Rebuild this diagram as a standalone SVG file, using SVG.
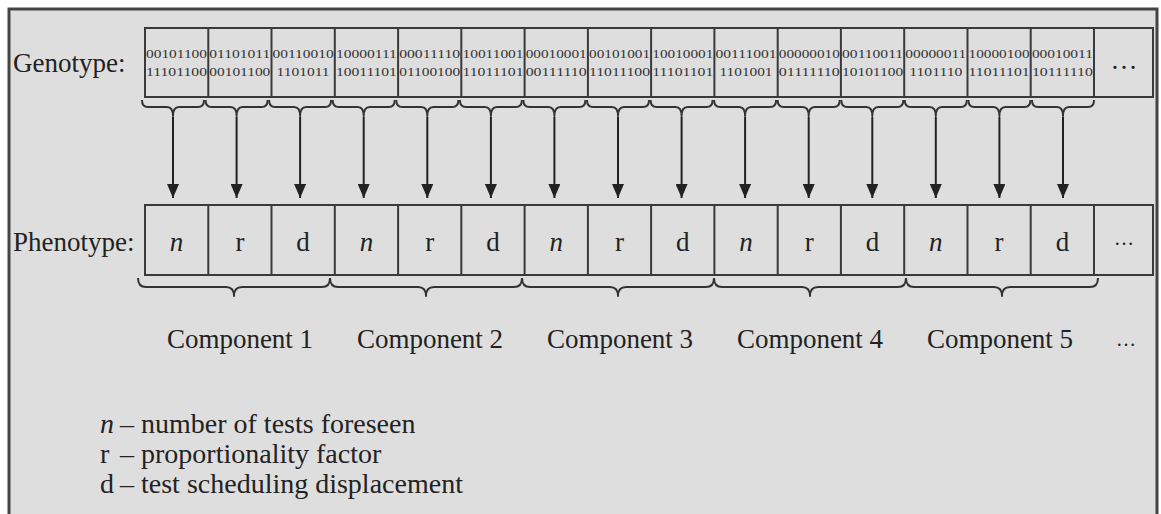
<svg xmlns="http://www.w3.org/2000/svg" width="1161" height="514" viewBox="0 0 1161 514">
  <style>
    .lbl { font-family: "Liberation Serif", "Times New Roman", serif; font-size: 27px; fill: #222; }
    .legend { font-size: 28px; }
    .bits { font-family: "Liberation Serif", "Times New Roman", serif; font-size: 12.5px; fill: #333; text-anchor: middle; }
    .sym { font-family: "Liberation Serif", "Times New Roman", serif; font-size: 27px; fill: #222; text-anchor: middle; }
    .it { font-style: italic; }
    .cell { fill: none; stroke: #3a3a3a; stroke-width: 2; }
    .brace { fill: none; stroke: #333; stroke-width: 2; stroke-linejoin: round; }
    .arrow { stroke: #222; stroke-width: 2; marker-end: url(#ah); }
  </style>
  <defs>
    <marker id="ah" markerUnits="userSpaceOnUse" markerWidth="14" markerHeight="12" viewBox="0 0 14 12" refX="14" refY="6" orient="auto">
      <path d="M0,0 L14,6 L0,12 z" fill="#222"/>
    </marker>
  </defs>

  <!-- page background and frame -->
  <rect x="0" y="0" width="1161" height="514" fill="#ffffff"/>
  <rect x="9" y="9" width="1148" height="520" fill="#dedede" stroke="#444" stroke-width="3"/>

  <!-- genotype strip -->
  <g id="genotype">
    <text class="lbl" x="13" y="72">Genotype:</text>
    <g class="bits">
      <text x="176.5" y="58" textLength="61" lengthAdjust="spacingAndGlyphs">00101100</text>
      <text x="176.5" y="76" textLength="61" lengthAdjust="spacingAndGlyphs">11101100</text>
      <text x="239.8" y="58" textLength="61" lengthAdjust="spacingAndGlyphs">01101011</text>
      <text x="239.8" y="76" textLength="61" lengthAdjust="spacingAndGlyphs">00101100</text>
      <text x="303.1" y="58" textLength="61" lengthAdjust="spacingAndGlyphs">00110010</text>
      <text x="303.1" y="76" textLength="53" lengthAdjust="spacingAndGlyphs">1101011</text>
      <text x="366.4" y="58" textLength="61" lengthAdjust="spacingAndGlyphs">10000111</text>
      <text x="366.4" y="76" textLength="61" lengthAdjust="spacingAndGlyphs">10011101</text>
      <text x="429.7" y="58" textLength="61" lengthAdjust="spacingAndGlyphs">00011110</text>
      <text x="429.7" y="76" textLength="61" lengthAdjust="spacingAndGlyphs">01100100</text>
      <text x="493" y="58" textLength="61" lengthAdjust="spacingAndGlyphs">10011001</text>
      <text x="493" y="76" textLength="61" lengthAdjust="spacingAndGlyphs">11011101</text>
      <text x="556.2" y="58" textLength="61" lengthAdjust="spacingAndGlyphs">00010001</text>
      <text x="556.2" y="76" textLength="61" lengthAdjust="spacingAndGlyphs">00111110</text>
      <text x="619.5" y="58" textLength="61" lengthAdjust="spacingAndGlyphs">00101001</text>
      <text x="619.5" y="76" textLength="61" lengthAdjust="spacingAndGlyphs">11011100</text>
      <text x="682.8" y="58" textLength="61" lengthAdjust="spacingAndGlyphs">10010001</text>
      <text x="682.8" y="76" textLength="61" lengthAdjust="spacingAndGlyphs">11101101</text>
      <text x="746" y="58" textLength="61" lengthAdjust="spacingAndGlyphs">00111001</text>
      <text x="746" y="76" textLength="53" lengthAdjust="spacingAndGlyphs">1101001</text>
      <text x="809.3" y="58" textLength="61" lengthAdjust="spacingAndGlyphs">00000010</text>
      <text x="809.3" y="76" textLength="61" lengthAdjust="spacingAndGlyphs">01111110</text>
      <text x="872.6" y="58" textLength="61" lengthAdjust="spacingAndGlyphs">00110011</text>
      <text x="872.6" y="76" textLength="61" lengthAdjust="spacingAndGlyphs">10101100</text>
      <text x="935.8" y="58" textLength="61" lengthAdjust="spacingAndGlyphs">00000011</text>
      <text x="935.8" y="76" textLength="53" lengthAdjust="spacingAndGlyphs">1101110</text>
      <text x="999.1" y="58" textLength="61" lengthAdjust="spacingAndGlyphs">10000100</text>
      <text x="999.1" y="76" textLength="61" lengthAdjust="spacingAndGlyphs">11011101</text>
      <text x="1062.4" y="58" textLength="61" lengthAdjust="spacingAndGlyphs">00010011</text>
      <text x="1062.4" y="76" textLength="61" lengthAdjust="spacingAndGlyphs">10111110</text>
    </g>
    <text class="sym" x="1124" y="69" font-size="20">…</text>
    <rect class="cell" x="145" y="28" width="1008" height="69"/>
    <path class="cell" d="M208.3,28V97 M271.5,28V97 M334.8,28V97 M398.1,28V97 M461.3,28V97 M524.6,28V97 M587.9,28V97 M651.1,28V97 M714.4,28V97 M777.7,28V97 M840.9,28V97 M904.2,28V97 M967.5,28V97 M1030.7,28V97 M1094,28V97"/>
  </g>

  <!-- per-gene braces under the genotype -->
  <g id="gene-braces" class="brace">
    <path d="M142,100 Q142,107 148,107 L167,107 Q173,107 173,116 Q173,107 179,107 L198,107 Q204,107 204,100"/>
    <path d="M205.6,100 Q205.6,107 211.6,107 L230.6,107 Q236.6,107 236.6,116 Q236.6,107 242.6,107 L261.6,107 Q267.6,107 267.6,100"/>
    <path d="M269.1,100 Q269.1,107 275.1,107 L294.1,107 Q300.1,107 300.1,116 Q300.1,107 306.1,107 L325.1,107 Q331.1,107 331.1,100"/>
    <path d="M332.7,100 Q332.7,107 338.7,107 L357.7,107 Q363.7,107 363.7,116 Q363.7,107 369.7,107 L388.7,107 Q394.7,107 394.7,100"/>
    <path d="M396.3,100 Q396.3,107 402.3,107 L421.3,107 Q427.3,107 427.3,116 Q427.3,107 433.3,107 L452.3,107 Q458.3,107 458.3,100"/>
    <path d="M459.9,100 Q459.9,107 465.9,107 L484.9,107 Q490.9,107 490.9,116 Q490.9,107 496.9,107 L515.9,107 Q521.9,107 521.9,100"/>
    <path d="M523.4,100 Q523.4,107 529.4,107 L548.4,107 Q554.4,107 554.4,116 Q554.4,107 560.4,107 L579.4,107 Q585.4,107 585.4,100"/>
    <path d="M587,100 Q587,107 593,107 L612,107 Q618,107 618,116 Q618,107 624,107 L643,107 Q649,107 649,100"/>
    <path d="M650.6,100 Q650.6,107 656.6,107 L675.6,107 Q681.6,107 681.6,116 Q681.6,107 687.6,107 L706.6,107 Q712.6,107 712.6,100"/>
    <path d="M714.1,100 Q714.1,107 720.1,107 L739.1,107 Q745.1,107 745.1,116 Q745.1,107 751.1,107 L770.1,107 Q776.1,107 776.1,100"/>
    <path d="M777.7,100 Q777.7,107 783.7,107 L802.7,107 Q808.7,107 808.7,116 Q808.7,107 814.7,107 L833.7,107 Q839.7,107 839.7,100"/>
    <path d="M841.3,100 Q841.3,107 847.3,107 L866.3,107 Q872.3,107 872.3,116 Q872.3,107 878.3,107 L897.3,107 Q903.3,107 903.3,100"/>
    <path d="M904.8,100 Q904.8,107 910.8,107 L929.8,107 Q935.8,107 935.8,116 Q935.8,107 941.8,107 L960.8,107 Q966.8,107 966.8,100"/>
    <path d="M968.4,100 Q968.4,107 974.4,107 L993.4,107 Q999.4,107 999.4,116 Q999.4,107 1005.4,107 L1024.4,107 Q1030.4,107 1030.4,100"/>
    <path d="M1032,100 Q1032,107 1038,107 L1057,107 Q1063,107 1063,116 Q1063,107 1069,107 L1088,107 Q1094,107 1094,100"/>
  </g>

  <!-- decoding arrows genotype -> phenotype -->
  <g id="connectors">
    <line class="arrow" x1="173" y1="117" x2="173" y2="198"/>
    <line class="arrow" x1="236.6" y1="117" x2="236.6" y2="198"/>
    <line class="arrow" x1="300.1" y1="117" x2="300.1" y2="198"/>
    <line class="arrow" x1="363.7" y1="117" x2="363.7" y2="198"/>
    <line class="arrow" x1="427.3" y1="117" x2="427.3" y2="198"/>
    <line class="arrow" x1="490.9" y1="117" x2="490.9" y2="198"/>
    <line class="arrow" x1="554.4" y1="117" x2="554.4" y2="198"/>
    <line class="arrow" x1="618" y1="117" x2="618" y2="198"/>
    <line class="arrow" x1="681.6" y1="117" x2="681.6" y2="198"/>
    <line class="arrow" x1="745.1" y1="117" x2="745.1" y2="198"/>
    <line class="arrow" x1="808.7" y1="117" x2="808.7" y2="198"/>
    <line class="arrow" x1="872.3" y1="117" x2="872.3" y2="198"/>
    <line class="arrow" x1="935.8" y1="117" x2="935.8" y2="198"/>
    <line class="arrow" x1="999.4" y1="117" x2="999.4" y2="198"/>
    <line class="arrow" x1="1063" y1="117" x2="1063" y2="198"/>
  </g>

  <!-- phenotype strip -->
  <g id="phenotype">
    <text class="lbl" x="13" y="251">Phenotype:</text>
    <g class="sym">
      <text class="it" x="176.6" y="251">n</text><text x="239.9" y="251">r</text><text x="303.1" y="251">d</text>
      <text class="it" x="366.4" y="251">n</text><text x="429.7" y="251">r</text><text x="493" y="251">d</text>
      <text class="it" x="556.2" y="251">n</text><text x="619.5" y="251">r</text><text x="682.8" y="251">d</text>
      <text class="it" x="746" y="251">n</text><text x="809.3" y="251">r</text><text x="872.6" y="251">d</text>
      <text class="it" x="935.8" y="251">n</text><text x="999.1" y="251">r</text><text x="1062.4" y="251">d</text>
      <text x="1124" y="245" font-size="20">…</text>
    </g>
    <rect class="cell" x="145" y="205" width="1008" height="70"/>
    <path class="cell" d="M208.3,205V275 M271.5,205V275 M334.8,205V275 M398.1,205V275 M461.3,205V275 M524.6,205V275 M587.9,205V275 M651.1,205V275 M714.4,205V275 M777.7,205V275 M840.9,205V275 M904.2,205V275 M967.5,205V275 M1030.7,205V275 M1094,205V275"/>
  </g>

  <!-- component braces -->
  <g id="component-braces" class="brace">
    <path d="M138,278 Q138,287 146,287 L226,287 Q234,287 234,296 Q234,287 242,287 L322,287 Q330,287 330,278"/>
    <path d="M330,278 Q330,287 338,287 L418,287 Q426,287 426,296 Q426,287 434,287 L514,287 Q522,287 522,278"/>
    <path d="M522,278 Q522,287 530,287 L610,287 Q618,287 618,296 Q618,287 626,287 L706,287 Q714,287 714,278"/>
    <path d="M714,278 Q714,287 722,287 L802,287 Q810,287 810,296 Q810,287 818,287 L898,287 Q906,287 906,278"/>
    <path d="M906,278 Q906,287 914,287 L994,287 Q1002,287 1002,296 Q1002,287 1010,287 L1090,287 Q1098,287 1098,278"/>
  </g>

  <!-- component labels -->
  <g id="components" class="sym">
    <text x="240" y="348">Component 1</text>
    <text x="430" y="348">Component 2</text>
    <text x="620" y="348">Component 3</text>
    <text x="810" y="348">Component 4</text>
    <text x="1000" y="348">Component 5</text>
    <text x="1126" y="346" font-size="20">…</text>
  </g>

  <!-- legend -->
  <g id="legend" class="lbl legend">
    <text x="100" y="433"><tspan class="it">n</tspan><tspan x="120">– number of tests foreseen</tspan></text>
    <text x="100" y="463">r<tspan x="120">– proportionality factor</tspan></text>
    <text x="100" y="493">d<tspan x="120">– test scheduling displacement</tspan></text>
  </g>
</svg>
